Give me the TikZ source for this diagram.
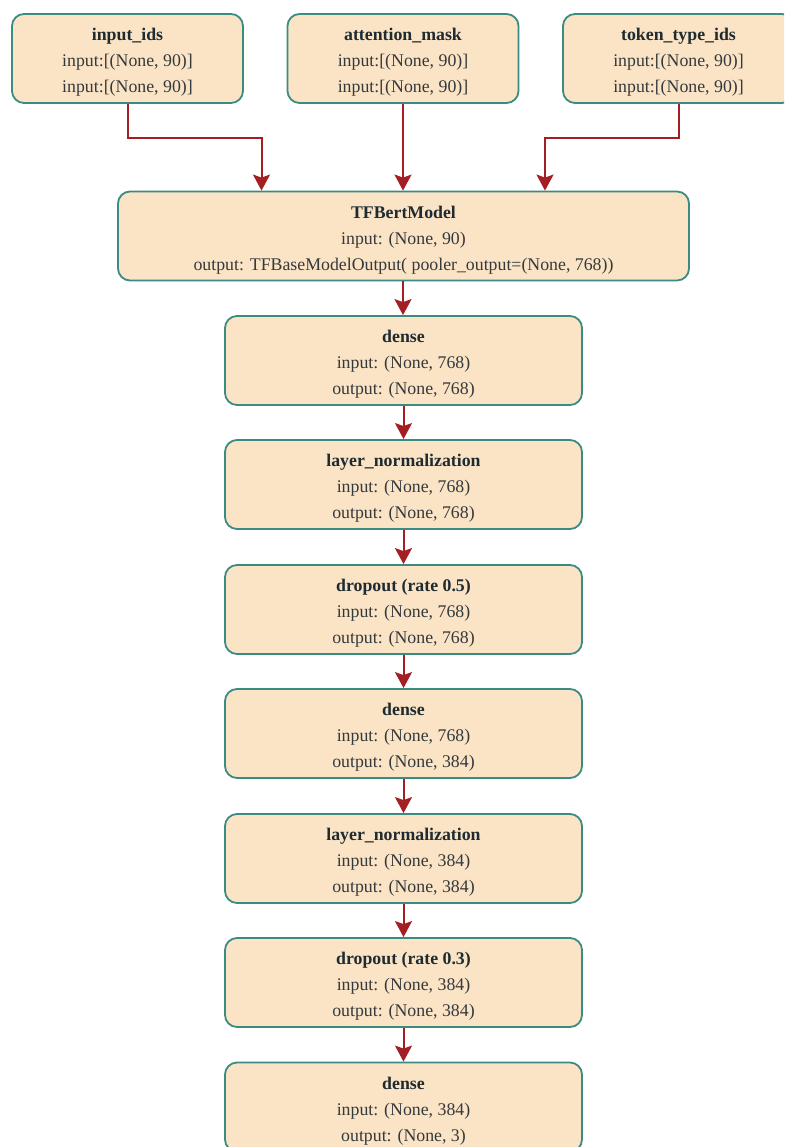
\documentclass[tikz,border=0pt]{standalone}
\usepackage{fontspec}
\setmainfont{Liberation Serif}
\usetikzlibrary{arrows.meta}
\definecolor{boxfill}{HTML}{FBE3C6}
\definecolor{boxline}{HTML}{3A8C82}
\definecolor{linkred}{HTML}{A31F24}
\definecolor{inktext}{HTML}{34393B}
\definecolor{titletext}{HTML}{1E2B30}
\tikzset{
  layer/.style={draw=boxline, line width=1.8pt, fill=boxfill, rounded corners=12pt,
    minimum height=89pt, inner sep=0pt},
  inbox/.style={layer, minimum width=231pt},
  widebox/.style={layer, minimum width=571pt},
  midbox/.style={layer, minimum width=357pt},
  caption/.style={align=center, text=inktext, inner sep=0pt, yshift=-4pt,
    font=\fontsize{17.8}{26}\selectfont},
  link/.style={draw=linkred, line width=2pt,
    -{Stealth[length=16pt, width=17pt, inset=3pt]}},
}
\newcommand{\layername}[1]{\textcolor{titletext}{\textbf{#1}}}
\begin{document}
\begin{tikzpicture}[x=1pt, y=-1pt]
  \useasboundingbox (0,0) rectangle (784,1147);
  \clip (0,0) rectangle (784,1147);

  % input layers
  \node[inbox, label={[caption]center:{\layername{input\_ids}\\input:[(None, 90)]\\input:[(None, 90)]}}] (ids) at (127.5,58.5) {};
  \node[inbox, label={[caption]center:{\layername{attention\_mask}\\input:[(None, 90)]\\input:[(None, 90)]}}] (mask) at (403,58.5) {};
  \node[inbox, label={[caption]center:{\layername{token\_type\_ids}\\input:[(None, 90)]\\input:[(None, 90)]}}] (tok) at (678.5,58.5) {};

  % encoder
  \node[widebox, label={[caption]center:{\layername{TFBertModel}\\input: (None, 90)\\output: TFBaseModelOutput( pooler\_output=(None, 768))}}] (bert) at (403.5,236) {};

  % classification head
  \node[midbox, label={[caption]center:{\layername{dense}\\input: (None, 768)\\output: (None, 768)}}] (d1) at (403.5,360.5) {};
  \node[midbox, label={[caption]center:{\layername{layer\_normalization}\\input: (None, 768)\\output: (None, 768)}}] (n1) at (403.5,484.5) {};
  \node[midbox, label={[caption]center:{\layername{dropout (rate 0.5)}\\input: (None, 768)\\output: (None, 768)}}] (p1) at (403.5,609.5) {};
  \node[midbox, label={[caption]center:{\layername{dense}\\input: (None, 768)\\output: (None, 384)}}] (d2) at (403.5,733.5) {};
  \node[midbox, label={[caption]center:{\layername{layer\_normalization}\\input: (None, 384)\\output: (None, 384)}}] (n2) at (403.5,858.5) {};
  \node[midbox, label={[caption]center:{\layername{dropout (rate 0.3)}\\input: (None, 384)\\output: (None, 384)}}] (p2) at (403.5,982.5) {};
  \node[midbox, label={[caption]center:{\layername{dense}\\input: (None, 384)\\output: (None, 3)}}] (d3) at (403.5,1107) {};

  % connectors
  \draw[link] (ids.south) -- ++(0,34) -| ([xshift=-142pt]bert.north);
  \draw[link] (mask.south) -- (mask.south |- bert.north);
  \draw[link] (tok.south) -- ++(0,34) -| ([xshift=141.5pt]bert.north);
  \draw[link] (bert.south -| mask.south) -- (d1.north -| mask.south);
  \draw[link] (d1) -- (n1);
  \draw[link] (n1) -- (p1);
  \draw[link] (p1) -- (d2);
  \draw[link] (d2) -- (n2);
  \draw[link] (n2) -- (p2);
  \draw[link] (p2) -- (d3);
\end{tikzpicture}
\end{document}
